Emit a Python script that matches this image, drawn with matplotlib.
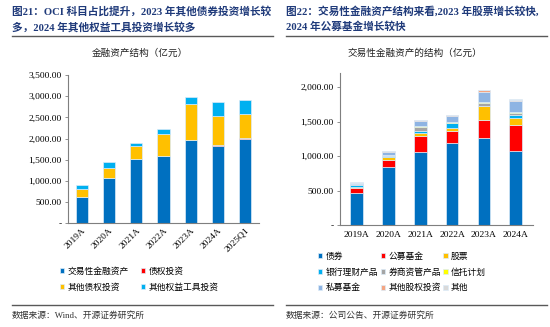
import matplotlib.pyplot as plt
from matplotlib.lines import Line2D
from matplotlib.ticker import FuncFormatter

# ---- data (亿元) ----
years_l = ['2019A', '2020A', '2021A', '2022A', '2023A', '2024A', '2025Q1']
trading = [625, 1060, 1520, 1590, 1960, 1825, 1985]
debt_inv = [5, 8, 8, 10, 10, 12, 22]
other_debt = [172, 245, 295, 515, 845, 700, 572]
other_equity = [100, 126, 72, 103, 158, 330, 330]

years_r = ['2019A', '2020A', '2021A', '2022A', '2023A', '2024A']
bonds = [460, 840, 1065, 1196, 1262, 1068]
pub_funds = [70, 105, 232, 169, 262, 375]
stocks = [18, 45, 35, 40, 195, 105]
bank_wm = [28, 10, 30, 70, 10, 48]
broker_am = [12, 15, 60, 8, 45, 35]
trust = [5, 3, 10, 5, 12, 12]
pe_funds = [15, 40, 70, 90, 148, 155]
other_eq = [8, 12, 15, 18, 20, 20]
others = [4, 5, 5, 4, 5, 5]

CJK = ['Noto Sans CJK SC', 'DejaVu Sans']
MIX = ['Liberation Serif', 'Noto Sans CJK SC']
NUM = 'Liberation Serif'
TITLE_C = '#1F3A7A'

fig = plt.figure(figsize=(5.5, 3.27), dpi=100)
W, H = 550.0, 327.0


def fx(px):
    return px / W


def fy(py):
    return 1 - py / H


def fmt(v, pos):
    return '-' if v == 0 else '{:,.2f}'.format(v)


def style_axes(ax):
    for s in ['top', 'right']:
        ax.spines[s].set_visible(False)
    for s in ['left', 'bottom']:
        ax.spines[s].set_color('#7F7F7F')
        ax.spines[s].set_linewidth(0.8)
    ax.yaxis.set_major_formatter(FuncFormatter(fmt))
    ax.tick_params(axis='y', length=2.5, width=0.6, color='#7F7F7F', labelsize=6.8, pad=2)
    ax.tick_params(axis='x', length=0, labelsize=6.8, pad=2)
    for lab in ax.get_yticklabels() + ax.get_xticklabels():
        lab.set_fontfamily(NUM)


def stack(ax, x, series, colors, labels, width):
    bottom = [0] * len(x)
    handles = []
    for vals, c, lab in zip(series, colors, labels):
        b = ax.bar(x, vals, width, bottom=bottom, color=c, edgecolor='#DCEBF8',
                   linewidth=0.5, label=lab)
        handles.append(b)
        bottom = [bb + v for bb, v in zip(bottom, vals)]
    return handles


# ---- titles / frame text ----
fig.text(fx(12), fy(11), '图21：OCI 科目占比提升，2023 年其他债券投资增长较',
         family=MIX, weight='bold', fontsize=7.7, color=TITLE_C, va='center')
fig.text(fx(12), fy(27), '多，2024 年其他权益工具投资增长较多',
         family=MIX, weight='bold', fontsize=7.7, color=TITLE_C, va='center')
fig.text(fx(286), fy(11), '图22：交易性金融资产结构来看,2023 年股票增长较快,',
         family=MIX, weight='bold', fontsize=7.7, color=TITLE_C, va='center')
fig.text(fx(286), fy(27), '2024 年公募基金增长较快',
         family=MIX, weight='bold', fontsize=7.7, color=TITLE_C, va='center')

for x0, x1 in [(12, 273), (286, 547)]:
    fig.add_artist(Line2D([fx(x0), fx(x1)], [fy(35.5), fy(35.5)], color='#595959', lw=1.0))
    fig.add_artist(Line2D([fx(x0), fx(x1)], [fy(304.5), fy(304.5)], color='#595959', lw=1.0))

fig.text(fx(140), fy(53), '金融资产结构（亿元）', family=CJK, fontsize=6.9,
         ha='center', va='center', color='#222222')
fig.text(fx(415), fy(53), '交易性金融资产的结构（亿元）', family=CJK, fontsize=6.9,
         ha='center', va='center', color='#222222')

fig.text(fx(12), fy(315), '数据来源：Wind、开源证券研究所', family=MIX, fontsize=6.3,
         va='center', color='#333333')
fig.text(fx(286), fy(315), '数据来源：公司公告、开源证券研究所', family=MIX, fontsize=6.3,
         va='center', color='#333333')

# ---- left chart ----
axl = fig.add_axes([fx(68), fy(223.3), fx(259 - 68), (223.3 - 75) / H])
xl = list(range(len(years_l)))
hl = stack(axl, xl, [trading, debt_inv, other_debt, other_equity],
           ['#0070C0', '#FF0000', '#FFC000', '#00B0F0'],
           ['交易性金融资产', '债权投资', '其他债权投资', '其他权益工具投资'], 0.45)
axl.set_ylim(0, 3500)
axl.set_yticks(range(0, 3501, 500))
axl.set_xlim(-0.5, 6.5)
axl.set_xticks(xl)
axl.set_xticklabels(years_l, rotation=45, ha='right', rotation_mode='anchor')
style_axes(axl)

fig.legend([hl[0], hl[2], hl[1], hl[3]],
           ['交易性金融资产', '其他债权投资', '债权投资', '其他权益工具投资'],
           loc='upper left', bbox_to_anchor=(fx(60), fy(267)), ncol=2, frameon=False,
           prop={'family': CJK, 'size': 6.3}, handlelength=0.5, handleheight=0.5,
           handletextpad=0.4, columnspacing=1.3, labelspacing=0.75, borderpad=0,
           borderaxespad=0)

# ---- right chart ----
axr = fig.add_axes([fx(340), fy(225), fx(533 - 340), (225 - 73.3) / H])
xr = list(range(len(years_r)))
labels_r = ['债券', '公募基金', '股票', '银行理财产品', '券商资管产品', '信托计划',
            '私募基金', '其他股权投资', '其他']
colors_r = ['#0070C0', '#FF0000', '#FFC000', '#00B0F0', '#A5A5A5', '#FFFF00',
            '#8EB4E3', '#F4A582', '#D9D9D9']
hr = stack(axr, xr, [bonds, pub_funds, stocks, bank_wm, broker_am, trust, pe_funds,
                     other_eq, others], colors_r, labels_r, 0.4)
axr.set_ylim(0, 2200)
axr.set_yticks(range(0, 2001, 500))
axr.set_xlim(-0.52, 5.54)
axr.set_xticks(xr)
axr.set_xticklabels(years_r)
style_axes(axr)
axr.tick_params(axis='x', pad=4)

order = [0, 3, 6, 1, 4, 7, 2, 5, 8]
fig.legend([hr[i] for i in order], [labels_r[i] for i in order],
           loc='upper left', bbox_to_anchor=(fx(318), fy(252)), ncol=3, frameon=False,
           prop={'family': CJK, 'size': 6.3}, handlelength=0.5, handleheight=0.5,
           handletextpad=0.4, columnspacing=0.25, labelspacing=0.75, borderpad=0,
           borderaxespad=0)

fig.savefig('out.png', dpi=100)
